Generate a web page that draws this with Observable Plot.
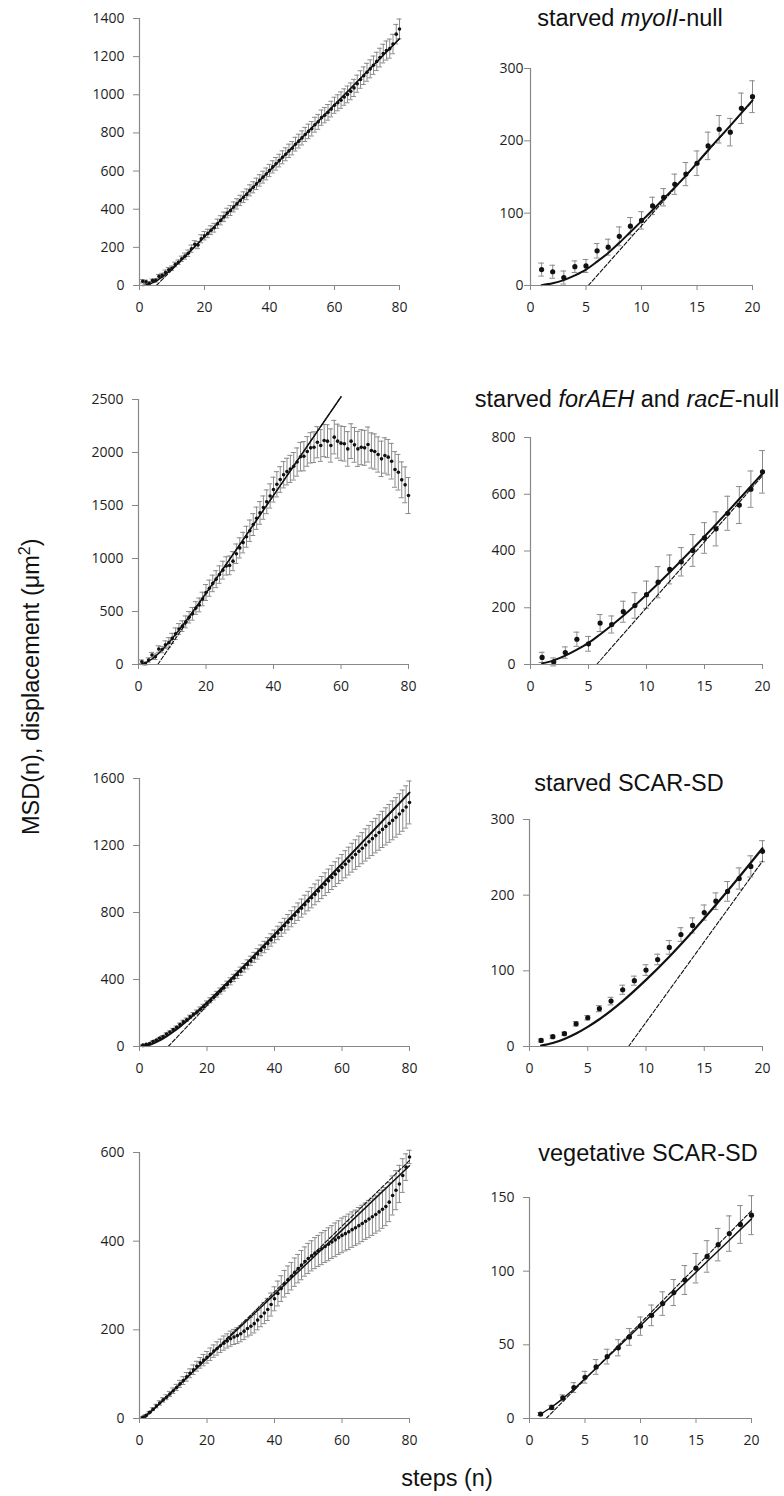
<!DOCTYPE html>
<html>
<head>
<meta charset="utf-8">
<script src="https://cdn.jsdelivr.net/npm/d3@7"></script>
<script src="https://cdn.jsdelivr.net/npm/@observablehq/plot@0.6"></script>
<style>
  html, body { margin: 0; padding: 0; background: #fff; }
  #root { position: relative; width: 784px; height: 1496px; overflow: hidden; background: #fff;
          font-family: "Liberation Sans", Arial, sans-serif; color: #111; }
  .title { position: absolute; font-size: 23.5px; line-height: 1; white-space: nowrap; transform: translateX(-50%); }
  .ylab { position: absolute; width: 420px; text-align: center; font-size: 23.5px; line-height: 1; white-space: nowrap;
          transform: rotate(-90deg); transform-origin: 50% 50%; }
  .ylab sup { font-size: 0.68em; vertical-align: 0.6em; line-height: 0; }
  .xlab { position: absolute; font-size: 23.5px; line-height: 1; white-space: nowrap; transform: translateX(-50%); }
</style>
</head>
<body>
<div id="root"></div>
<script>
// ---------- tick values ----------
const ticksX80 = [0, 20, 40, 60, 80];
const ticksX20 = [0, 5, 10, 15, 20];
const ticksYMyo80 = [0, 200, 400, 600, 800, 1000, 1200, 1400];
const ticksYMyo20 = [0, 100, 200, 300];
const ticksYFor80 = [0, 500, 1000, 1500, 2000, 2500];
const ticksYFor20 = [0, 200, 400, 600, 800];
const ticksYScar80 = [0, 400, 800, 1200, 1600];
const ticksYScar20 = [0, 100, 200, 300];
const ticksYVeg80 = [0, 200, 400, 600];
const ticksYVeg20 = [0, 50, 100, 150];

// ---------- starved myoII-null ----------
const msdMyo = [22,19,11,26,27,48,53,68,82,90,110,122,140,154,169,193,216,212,245,261,
  273,290,303,324,342,360,380,393,412,428,446,463,478,499,515,533,551,568,585,603,
  622,638,655,672,688,706,720,741,757,774,792,808,822,843,858,880,893,908,925,945,
  958,972,988,1002,1018,1036,1058,1080,1100,1118,1136,1155,1175,1195,1216,1232,1242,1266,1318,1345];
const errMyo = [9,9,9,8,9,10,11,13,12,12,12,12,14,16,17,19,19,19,21,22,
  22,23,23,24,24,25,25,26,26,27,27,28,28,29,29,30,30,31,31,32,
  32,33,33,34,34,35,35,36,36,37,37,38,38,39,39,40,40,41,41,42,
  42,43,43,44,44,45,45,46,46,47,47,48,48,49,49,50,50,51,51,52];
const fitMyoN = [1,2,3,4,5,6,7,8,9,10,12,14,16,18,20,30,40,50,60,70,80];
const fitMyoV = [0.5,3,7.5,14,22,33,45,59,74,89,120,152,187,221,256,430,602,775,948,1121,1294];
const asymMyoN = [5.2, 80];
const asymMyoV = [0, 1294];

// ---------- starved forAEH and racE-null ----------
const msdFor = [25,9,42,89,73,146,141,186,208,246,290,335,362,402,446,478,533,562,618,679,
  720,765,805,848,890,930,935,975,1045,1100,1150,1205,1262,1320,1380,1430,1480,1535,1590,1650,
  1700,1745,1790,1820,1845,1870,1910,1960,1965,2010,2044,2050,2097,2066,2113,2107,2066,2145,2107,2088,
  2082,2034,2107,2072,2034,2050,2044,2075,2019,2009,1981,1940,1972,1956,1918,1840,1814,1742,1695,1594];
const errFor = [18,14,20,25,26,30,30,37,45,48,55,51,50,56,54,60,60,65,64,75,
  76,78,80,82,84,86,88,90,92,95,97,99,101,103,105,107,110,112,114,117,
  119,121,124,126,128,130,133,135,138,140,143,145,147,150,152,155,157,158,160,162,
  163,163,164,164,165,165,165,165,166,166,166,167,167,167,168,168,168,169,169,170];
const fitForN = [1,2,3,4,5,6,8,10,12,15,20,30,40,50,60];
const fitForV = [3.9,14.6,31,52,76,106,172,246,325,451,673,1131,1595,2060,2525];
const asymForN = [5.7, 60];
const asymForV = [0, 2525];

// ---------- starved SCAR-SD ----------
const msdScar = [8,13,17,30,38,50,60,75,87,101,115,131,148,160,177,192,205,222,238,258,
  276,294,312,331,350,370,389,409,429,449,470,490,511,532,553,574,594,615,636,657,
  678,699,721,742,763,784,805,826,847,868,888,908,929,949,969,989,1009,1029,1049,1068,
  1088,1107,1127,1146,1165,1184,1203,1222,1241,1259,1278,1296,1314,1332,1350,1368,1388,1408,1430,1457];
const errScar = [2,2,2,3,3,4,5,6,6,7,7,9,9,10,10,11,13,14,14,14,
  15,16,17,18,19,20,21,22,23,25,26,27,28,30,31,32,34,35,37,38,
  40,42,44,46,48,50,52,54,56,58,60,62,64,66,68,70,72,74,76,78,
  81,83,86,88,91,93,96,98,101,103,106,108,111,113,116,118,121,123,126,128];
const fitScarN = [1,2,3,4,5,6,8,10,12,14,16,18,20,30,40,50,60,70,80];
const fitScarV = [1.2,4.6,10,17.2,26,36,60,88,118.7,152,187.3,224,262,461,669,880,1092,1304,1516];
const asymScar20N = [8.5, 20];
const asymScar20V = [0, 245];
const asymScar80N = [8.5, 80];
const asymScar80V = [0, 1516];

// ---------- vegetative SCAR-SD ----------
const msdVeg = [3,7.5,14,21,28,35,42,48,55.4,62.7,70,78,85.5,94,102,110,118,125.5,131.7,138,
  145,152,158,164,170,175,180,184,187,191,197,203,208,214,222,230,238,246,257,270,
  282,293,304,313,321,330,338,346,354,361,367,373,378,383,388,393,398,403,408,413,
  417,421,426,430,435,440,445,450,455,460,466,472,478,488,503,515,529,548,567,590];
const errVeg = [1,1.5,2,3.3,4,5,5,5.5,5.7,6.2,7,8,8.8,9.8,10,10.7,11,12,12.8,13.2,
  14,14,15,15,16,16,17,17,18,18,19,19,20,21,22,23,24,25,26,27,
  28,29,30,31,31,32,32,33,33,34,34,35,35,36,36,37,37,38,38,39,
  39,40,40,40,41,41,41,42,42,42,43,43,43,44,44,44,42,38,30,15];
const fitVegN = [1,2,3,4,5,6,8,10,12,15,18,20,40,60,80];
const fitVegV = [3,7.8,13.5,20,27,34.1,48.6,63.1,77.6,99.3,121,135.5,280,425,570];
const asymVeg20N = [1.5, 20];
const asymVeg20V = [0, 141];
const asymVeg80N = [1.5, 80];
const asymVeg80V = [0, 582];

// ---------- helpers ----------
const root = document.getElementById("root");
const rows = (vals, errs, count) => vals.slice(0, count).map((v, i) => ({n: i + 1, v, e: errs[i]}));
const pts = (ns, vs) => ns.map((n, i) => ({n, v: vs[i]}));
const fmt = d3.format("d");

function panel(cfg) {
  const [x0, x1, y0, y1] = cfg.frame;
  const mL = 62, mR = 22, mT = 16, mB = 36;
  const data = cfg.data;
  const chart = Plot.plot({
    width: x1 - x0 + mL + mR,
    height: y1 - y0 + mT + mB,
    marginLeft: mL, marginRight: mR, marginTop: mT, marginBottom: mB,
    x: {domain: [0, cfg.xMax]},
    y: {domain: [0, cfg.yMax]},
    style: {fontFamily: "'Open Sans', sans-serif", fontSize: "14px", color: "#1e1e1e", background: "transparent", overflow: "visible"},
    marks: [
      Plot.ruleX(data, {x: "n", y1: d => d.v - d.e, y2: d => d.v + d.e, stroke: "#8a8a8a", strokeWidth: 1}),
      Plot.ruleY(data, {y: d => d.v + d.e, x1: d => d.n - cfg.cap, x2: d => d.n + cfg.cap, stroke: "#8a8a8a", strokeWidth: 1}),
      Plot.ruleY(data, {y: d => d.v - d.e, x1: d => d.n - cfg.cap, x2: d => d.n + cfg.cap, stroke: "#8a8a8a", strokeWidth: 1}),
      Plot.dot(data, {x: "n", y: "v", r: cfg.r, fill: "#111", stroke: "none"}),
      Plot.line(cfg.asym, {x: "n", y: "v", stroke: "#111", strokeWidth: 1.1, strokeDasharray: "4,2"}),
      Plot.line(cfg.fit, {x: "n", y: "v", curve: "monotone-x", stroke: "#111", strokeWidth: cfg.lw}),
      Plot.ruleX([0], {stroke: "#888", strokeWidth: 1.2}),
      Plot.ruleY([0], {stroke: "#888", strokeWidth: 1.2}),
      Plot.axisX({ticks: cfg.xTicks, tickSize: 5, tickPadding: 12, stroke: "#888", fill: "#1e1e1e", label: null, tickFormat: fmt}),
      Plot.axisY({ticks: cfg.yTicks, tickSize: 6, tickPadding: cfg.yPad, stroke: "#888", fill: "#1e1e1e", label: null, tickFormat: fmt})
    ]
  });
  chart.style.position = "absolute";
  chart.style.left = (x0 - mL) + "px";
  chart.style.top = (y0 - mT) + "px";
  root.appendChild(chart);
}

function addTitle(html, cx, baseline) {
  const d = document.createElement("div");
  d.className = "title";
  d.innerHTML = html;
  d.style.left = cx + "px";
  d.style.top = (baseline - 19.9) + "px";
  root.appendChild(d);
}

// ---------- panels ----------
panel({frame: [139, 399, 18, 285], xMax: 80, yMax: 1400, xTicks: ticksX80, yTicks: ticksYMyo80, yPad: 9,
  data: rows(msdMyo, errMyo, 80), fit: pts(fitMyoN, fitMyoV), asym: pts(asymMyoN, asymMyoV), r: 1.8, cap: 0.75, lw: 1.5});
panel({frame: [530, 752, 68, 285], xMax: 20, yMax: 300, xTicks: ticksX20, yTicks: ticksYMyo20, yPad: 1,
  data: rows(msdMyo, errMyo, 20), fit: pts(fitMyoN.slice(0, 15), fitMyoV.slice(0, 15)), asym: [{n: asymMyoN[0], v: 0}, {n: 20, v: 255}], r: 2.6, cap: 0.25, lw: 2});

panel({frame: [138, 408, 399, 664], xMax: 80, yMax: 2500, xTicks: ticksX80, yTicks: ticksYFor80, yPad: 9,
  data: rows(msdFor, errFor, 80), fit: pts(fitForN, fitForV), asym: pts(asymForN, asymForV), r: 1.8, cap: 0.75, lw: 1.5});
panel({frame: [530, 762, 437, 664], xMax: 20, yMax: 800, xTicks: ticksX20, yTicks: ticksYFor20, yPad: 9,
  data: rows(msdFor, errFor, 20), fit: pts(fitForN.slice(0, 11), fitForV.slice(0, 11)), asym: [{n: 5.7, v: 0}, {n: 20, v: 665}], r: 2.6, cap: 0.25, lw: 2});

panel({frame: [139, 409, 778, 1046], xMax: 80, yMax: 1600, xTicks: ticksX80, yTicks: ticksYScar80, yPad: 9,
  data: rows(msdScar, errScar, 80), fit: pts(fitScarN, fitScarV), asym: pts(asymScar80N, asymScar80V), r: 1.8, cap: 0.75, lw: 2});
panel({frame: [529, 762, 819, 1046], xMax: 20, yMax: 300, xTicks: ticksX20, yTicks: ticksYScar20, yPad: 9,
  data: rows(msdScar, errScar, 20), fit: pts(fitScarN.slice(0, 13), fitScarV.slice(0, 13)), asym: pts(asymScar20N, asymScar20V), r: 2.6, cap: 0.25, lw: 2.2});

panel({frame: [139, 409, 1152, 1418], xMax: 80, yMax: 600, xTicks: ticksX80, yTicks: ticksYVeg80, yPad: 9,
  data: rows(msdVeg, errVeg, 80), fit: pts(fitVegN, fitVegV), asym: pts(asymVeg80N, asymVeg80V), r: 1.8, cap: 0.75, lw: 1.5});
panel({frame: [529, 751, 1197, 1418], xMax: 20, yMax: 150, xTicks: ticksX20, yTicks: ticksYVeg20, yPad: 9,
  data: rows(msdVeg, errVeg, 20), fit: pts(fitVegN.slice(0, 12), fitVegV.slice(0, 12)), asym: pts(asymVeg20N, asymVeg20V), r: 2.6, cap: 0.25, lw: 1.5});

// ---------- titles and axis labels ----------
addTitle("starved <i>myoII</i>-null", 630, 27);
addTitle("starved <i>forAEH</i> and <i>racE</i>-null", 627, 408);
addTitle("starved SCAR-SD", 629, 792);
addTitle("vegetative SCAR-SD", 648, 1162);

const yl = document.createElement("div");
yl.className = "ylab";
yl.innerHTML = "MSD(n), displacement (&mu;m<sup>2</sup>)";
yl.style.left = (32 - 210) + "px";
yl.style.top = (687 - 11.75) + "px";
root.appendChild(yl);

const xl = document.createElement("div");
xl.className = "xlab";
xl.textContent = "steps (n)";
xl.style.left = "447px";
xl.style.top = (1487 - 19.9) + "px";
root.appendChild(xl);
</script>
</body>
</html>
